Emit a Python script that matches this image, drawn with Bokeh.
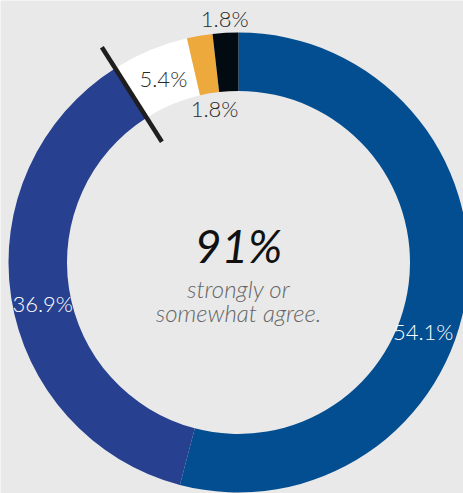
import numpy as np
from bokeh.plotting import figure
from bokeh.models import Range1d, ColumnDataSource
from bokeh.core.properties import value
from bokeh.embed import file_html
from bokeh.resources import INLINE

# ---- data ----
categories = ["Strongly agree", "Somewhat agree", "Neutral", "Somewhat disagree", "Strongly disagree"]
shares = [54.1, 36.9, 5.4, 1.8, 1.8]
labels = ["54.1%", "36.9%", "5.4%", "1.8%", "1.8%"]
headline = "91%"
subline = ["strongly or", "somewhat agree."]

# ---- styles / layout ----
colors = ["#034e91", "#27408f", "#ffffff", "#eea93c", "#020a12"]
label_colors = ["#ffffff", "#ffffff", "#2a2a2a", "#2a2a2a", "#2a2a2a"]
label_radius = [197, 200, 199, 156, 244]
label_angle_shift = [13.0, -3.0, 0.5, 0.9, 0.0]
BG = "#e9e9e9"
W, H = 463, 493
cx, cy = 238, H - 262
r_in, r_out = 171.5, 230
LIGHT = value("'Lato Light', Lato, sans-serif")

p = figure(width=W, height=H, output_backend="svg", toolbar_location=None,
           x_range=Range1d(0, W), y_range=Range1d(0, H), min_border=0)
p.axis.visible = False
p.grid.visible = False
p.outline_line_color = None
p.background_fill_color = BG
p.border_fill_color = BG

cum = np.concatenate([[0], np.cumsum(shares)]) / 100.0 * 360.0  # clockwise from top, degrees
start_cw = cum[:-1]
end_cw = cum[1:]
src = ColumnDataSource(dict(
    cat=categories,
    start=np.radians(90 - end_cw),
    end=np.radians(90 - start_cw),
    color=colors,
))
p.annular_wedge(x=cx, y=cy, inner_radius=r_in, outer_radius=r_out,
                start_angle="start", end_angle="end", fill_color="color",
                line_color=None, source=src)

# divider line at start of the "neutral" segment
theta = np.radians(start_cw[2])
rr = np.array([143, 255])
p.line(cx + rr * np.sin(theta), cy + rr * np.cos(theta), line_color="#1e1e1e", line_width=4.5)

mid = (start_cw + end_cw) / 2 + np.array(label_angle_shift)
lr = np.array(label_radius)
lsrc = ColumnDataSource(dict(
    x=cx + lr * np.sin(np.radians(mid)),
    y=cy + lr * np.cos(np.radians(mid)),
    text=labels, color=label_colors,
))
p.text(x="x", y="y", text="text", text_color="color", source=lsrc,
       text_font=LIGHT, text_font_size="22px",
       text_align="center", text_baseline="middle")

p.text(x=[cx], y=[cy + 17], text=[headline], text_font=value("Lato"),
       text_font_style="italic", text_font_size="46px", text_color="#111111",
       text_align="center", text_baseline="middle")
p.text(x=[cx, cx], y=[cy - 26, cy - 50], text=subline, text_font=LIGHT,
       text_font_style="italic", text_font_size="24px", text_color="#666666",
       text_align="center", text_baseline="middle")

html = file_html(p, INLINE)
html = html.replace("<body>", '<body style="background-color:%s;">' % BG, 1)
open("out.html", "w").write(html)
